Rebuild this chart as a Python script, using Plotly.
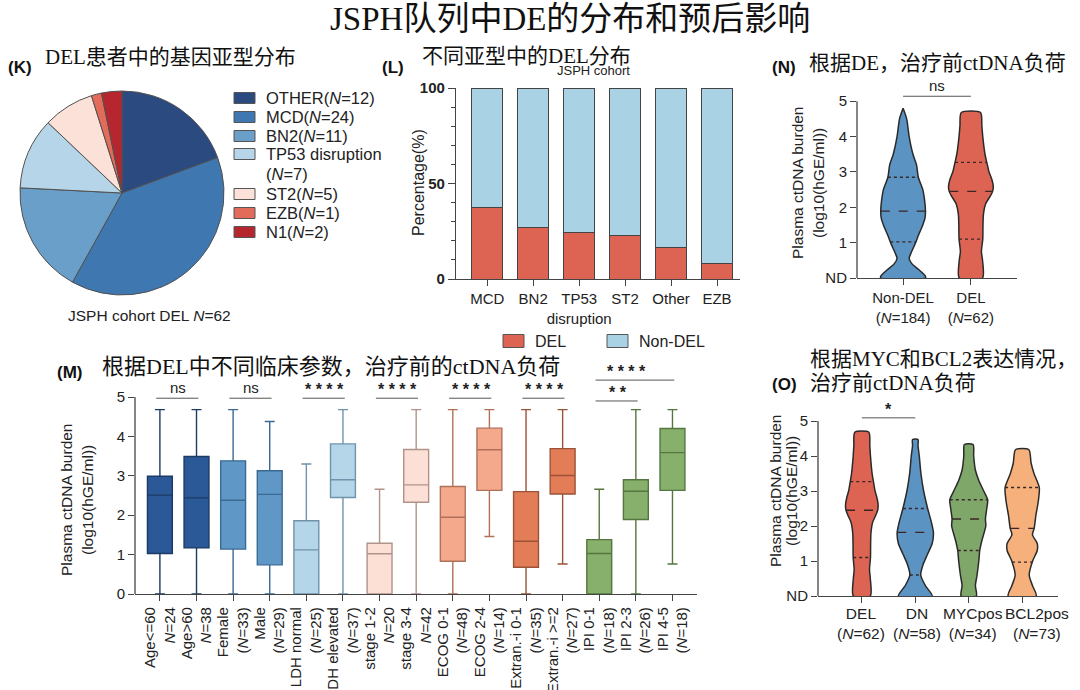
import numpy as np
import plotly.graph_objects as go

W, H = 1080, 690

# ---------------- data ----------------
pie_labels = ["OTHER(<i>N</i>=12)", "MCD(<i>N</i>=24)", "BN2(<i>N</i>=11)",
              "TP53 disruption<br>(<i>N</i>=7)", "ST2(<i>N</i>=5)", "EZB(<i>N</i>=1)", "N1(<i>N</i>=2)"]
pie_values = [12, 24, 11, 7, 5, 1, 2]

bar_categories = ["MCD", "BN2", "TP53<br>disruption", "ST2", "Other", "EZB"]
bar_series = ["DEL", "Non-DEL"]
bar_del = [37.5, 27.0, 24.5, 23.0, 16.5, 8.0]
bar_nondel = [62.5, 73.0, 75.5, 77.0, 83.5, 92.0]

box_labels = ["Age&lt;=60<br><i>N</i>=24", "Age&gt;60<br><i>N</i>=38", "Female<br>(<i>N</i>=33)",
              "Male<br>(<i>N</i>=29)", "LDH normal<br>(<i>N</i>=25)", "LDH elevated<br>(<i>N</i>=37)",
              "stage 1-2<br><i>N</i>=20", "stage 3-4<br><i>N</i>=42", "ECOG 0-1<br>(<i>N</i>=48)",
              "ECOG 2-4<br>(<i>N</i>=14)", "Extran.-i 0-1<br>(<i>N</i>=35)", "Extran.-i &gt;=2<br>(<i>N</i>=27)",
              "IPI 0-1<br>(<i>N</i>=18)", "IPI 2-3<br>(<i>N</i>=26)", "IPI 4-5<br>(<i>N</i>=18)"]
box_low = [0, 0, 0, 0, 0, 0, 0, 0, 0, 1.46, 0, 0.76, 0, 0, 0.76]
box_q1 = [1.03, 1.17, 1.14, 0.74, 0, 2.45, 0, 2.33, 0.83, 2.63, 0.68, 2.54, 0, 1.89, 2.63]
box_median = [2.51, 2.44, 2.38, 2.53, 1.12, 2.90, 1.02, 2.77, 1.95, 3.66, 1.34, 3.01, 1.03, 2.61, 3.59]
box_q3 = [2.99, 3.49, 3.38, 3.13, 1.86, 3.81, 1.29, 3.67, 2.73, 4.21, 2.60, 3.69, 1.38, 2.90, 4.20]
box_high = [4.68, 4.68, 4.68, 4.38, 3.30, 4.68, 2.66, 4.68, 4.68, 4.68, 4.68, 4.68, 2.66, 4.68, 4.68]

# significance brackets for panel M
m_sig_from = [0, 2, 4, 6, 8, 10, 12, 12]
m_sig_to = [1, 3, 5, 7, 9, 11, 13, 14]
m_sig_text = ["ns", "ns", "* * * *", "* * * *", "* * * *", "* * * *", "* *", "* * * *"]
m_sig_level = [4.97, 4.97, 4.97, 4.97, 4.97, 4.97, 4.90, 5.43]

# violin outlines: y level and relative half-width
nondel_y = [0, 0.05, 0.2, 0.4, 0.55, 0.7, 1.0, 1.2, 1.5, 1.7, 1.9, 2.2, 2.5, 2.85, 3.2, 3.5, 4.0, 4.5, 4.8]
nondel_w = [1.0, 1.0, 0.77, 0.4, 0.27, 0.35, 0.56, 0.68, 0.88, 0.98, 1.0, 0.96, 0.88, 0.68, 0.6, 0.44, 0.27, 0.16, 0.0]
nondel_q = [1.02, 1.89, 2.85]

del_y = [0, 0.5, 0.75, 1.1, 1.5, 1.8, 2.1, 2.3, 2.45, 2.6, 2.8, 3.0, 3.27, 3.5, 4.0, 4.3, 4.68]
del_w = [0.52, 0.52, 0.47, 0.53, 0.54, 0.56, 0.66, 0.85, 0.97, 1.0, 0.93, 0.81, 0.71, 0.63, 0.53, 0.49, 0.43]
del_q = [1.1, 2.45, 3.27]

dn_y = [0, 0.3, 0.6, 0.9, 1.2, 1.5, 1.8, 2.1, 2.5, 3.0, 3.5, 4.0, 4.3, 4.47]
dn_w = [0.93, 0.55, 0.3, 0.43, 0.68, 0.93, 1.0, 0.89, 0.68, 0.46, 0.31, 0.22, 0.15, 0.15]
dn_q = [0.6, 1.82, 2.5]

myc_y = [0, 0.3, 0.6, 1.0, 1.3, 1.6, 2.0, 2.2, 2.5, 2.75, 3.0, 3.3, 3.6, 4.0, 4.33]
myc_w = [0.4, 0.35, 0.44, 0.53, 0.58, 0.7, 0.9, 0.88, 0.95, 1.0, 0.79, 0.53, 0.35, 0.26, 0.23]
myc_q = [1.3, 2.2, 2.75]

bcl2_y = [0, 0.3, 0.6, 1.0, 1.3, 1.5, 1.75, 1.93, 2.3, 2.7, 3.1, 3.5, 3.8, 4.18]
bcl2_w = [0.82, 0.6, 0.41, 0.61, 0.88, 0.88, 0.6, 0.7, 0.8, 0.94, 1.0, 0.69, 0.52, 0.39]
bcl2_q = [0.97, 1.93, 3.1]

n_labels = ["Non-DEL<br>(<i>N</i>=184)", "DEL<br>(<i>N</i>=62)"]
o_labels = ["DEL<br>(<i>N</i>=62)", "DN<br>(<i>N</i>=58)", "MYCpos<br>(<i>N</i>=34)", "BCL2pos<br>(<i>N</i>=73)"]
nd_ticks = ["ND", "1", "2", "3", "4", "5"]

# ---------------- style ----------------
SANS = "Liberation Sans, Arial, sans-serif"
SERIF = "Liberation Serif, Noto Sans CJK SC, serif"
TXT = "#222222"
AX = "#444444"

pie_colors = ["#2b4a80", "#3f78b0", "#6a9fca", "#b7d5e8", "#fbe1d8", "#e26b5a", "#b5262e"]
pie_rows = [98, 117, 136, 154, 194, 213, 232]
bar_colors = ["#dd6453", "#a9d3e4"]
box_fill = ["#2b5896"] * 2 + ["#5f98c6"] * 2 + ["#b5d5e8"] * 2 + ["#fce0d6"] * 2 + \
           ["#f5a98c"] * 2 + ["#e27d58"] * 2 + ["#87b06d"] * 3
box_line = ["#1c3a66"] * 2 + ["#3a6a94"] * 2 + ["#6f93aa"] * 2 + ["#b0948a"] * 2 + \
           ["#b0705a"] * 2 + ["#9c5236"] * 2 + ["#56763f"] * 3
o_label_shift = [-1, 2, 4, 15]
RED = "#dd6453"
BLUE = "#5b93c2"
GREEN = "#80a76a"
ORANGE = "#f5b07c"


def xp(p):
    return p / W


def yp(p):
    return 1 - p / H


fig = go.Figure()

# ---- pie (K)
fig.add_trace(go.Pie(labels=pie_labels, values=pie_values, sort=False, direction="clockwise",
                     rotation=0, textinfo="none", hoverinfo="label+value", showlegend=False,
                     marker=dict(colors=pie_colors, line=dict(color="#505050", width=1)),
                     domain=dict(x=[xp(20), xp(224)], y=[yp(298), yp(88)])))

# ---- stacked bars (L)
bx = list(range(len(bar_categories)))
for name, vals, col in zip(bar_series, [bar_del, bar_nondel], bar_colors):
    fig.add_trace(go.Bar(x=bx, y=vals, name=name, marker=dict(color=col, line=dict(color=AX, width=1)),
                         width=0.67, xaxis="x", yaxis="y", showlegend=False))

# ---- box plots (M)
for i in range(len(box_labels)):
    fig.add_trace(go.Box(x=[i], q1=[box_q1[i]], median=[box_median[i]], q3=[box_q3[i]],
                         lowerfence=[box_low[i]], upperfence=[box_high[i]],
                         fillcolor=box_fill[i], line=dict(color=box_line[i], width=1.4),
                         width=0.68, whiskerwidth=0.4, boxpoints=False, showlegend=False,
                         xaxis="x3", yaxis="y3", hoverinfo="y"))


def add_violin(ys, ws, center, scale, color, quart, xa, ya):
    ys = np.asarray(ys, dtype=float)
    ws = np.asarray(ws, dtype=float) * scale
    xs = np.concatenate([center - ws, (center + ws)[::-1], [center - ws[0]]])
    yy = np.concatenate([ys, ys[::-1], [ys[0]]])
    fig.add_trace(go.Scatter(x=xs, y=yy, mode="lines", fill="toself", fillcolor=color,
                             line=dict(color="#2a2a2a", width=1.5, shape="spline", smoothing=0.7),
                             showlegend=False, hoverinfo="skip", xaxis=xa, yaxis=ya))
    for q, dash in zip(quart, ["dot", "dash", "dot"]):
        hw = float(np.interp(q, ys, ws))
        fig.add_trace(go.Scatter(x=[center - hw, center + hw], y=[q, q], mode="lines",
                                 line=dict(color="#3a2626", width=1.3, dash=dash),
                                 showlegend=False, hoverinfo="skip", xaxis=xa, yaxis=ya))


# ---- violins (N)
add_violin(nondel_y, nondel_w, 0, 0.33, BLUE, nondel_q, "x2", "y2")
add_violin(del_y, del_w, 1, 0.33, RED, del_q, "x2", "y2")
# ---- violins (O)
add_violin(del_y, del_w, 0, 0.305, RED, del_q, "x4", "y4")
add_violin(dn_y, dn_w, 1, 0.34, BLUE, dn_q, "x4", "y4")
add_violin(myc_y, myc_w, 2, 0.355, GREEN, myc_q, "x4", "y4")
add_violin(bcl2_y, bcl2_w, 3, 0.32, ORANGE, bcl2_q, "x4", "y4")

tickfont = dict(family=SANS, size=15, color=TXT)
common_x = dict(showline=True, linecolor=AX, linewidth=1.3, ticks="outside", ticklen=6,
                tickcolor=AX, showgrid=False, zeroline=False, tickfont=tickfont, automargin=False)
common_y = dict(showline=False, ticks="outside", ticklen=6, tickcolor=AX, showgrid=False,
                zeroline=False, tickfont=tickfont, automargin=False)

fig.update_layout(
    width=W, height=H, margin=dict(l=0, r=0, t=0, b=0, autoexpand=False),
    paper_bgcolor="white", plot_bgcolor="white",
    barmode="stack", showlegend=False,
    font=dict(family=SANS, color=TXT),
    xaxis=dict(domain=[xp(456), xp(740)], range=[-0.68, 5.5], tickvals=bx, ticktext=bar_categories,
               tickangle=0, anchor="y", **common_x),
    yaxis=dict(domain=[yp(279), yp(88)], range=[0, 100], tickvals=[0, 50, 100], anchor="x",
               showline=True, linecolor=AX, linewidth=1.3, ticks="outside", ticklen=7, tickcolor=AX,
               showgrid=False, zeroline=False, automargin=False,
               tickfont=dict(family=SANS, size=15, color=TXT, weight="bold"),
               minor=dict(dtick=10, ticks="outside", ticklen=4, tickcolor=AX)),
    xaxis2=dict(domain=[xp(857), xp(1017)], range=[-0.68, 1.68], tickvals=[0, 1], ticktext=n_labels,
                tickangle=0, anchor="y2", **common_x),
    yaxis2=dict(domain=[yp(278), yp(80)], range=[0, 5.6], tickvals=[0, 1, 2, 3, 4, 5], ticktext=nd_ticks,
                anchor="x2", **common_y),
    xaxis3=dict(domain=[xp(135), xp(697)], range=[-0.68, 14.67], tickvals=list(range(len(box_labels))),
                ticktext=box_labels, tickangle=-90, anchor="y3", **common_x),
    yaxis3=dict(domain=[yp(594), yp(373.4)], range=[0, 5.6], tickvals=[0, 1, 2, 3, 4, 5],
                anchor="x3", **common_y),
    xaxis4=dict(domain=[xp(818), xp(1058)], range=[-0.82, 3.67], tickvals=[0, 1, 2, 3],
                showticklabels=False, anchor="y4", **common_x),
    yaxis4=dict(domain=[yp(596), yp(400)], range=[0, 5.6], tickvals=[0, 1, 2, 3, 4, 5], ticktext=nd_ticks,
                anchor="x4", **common_y),
)

shapes = []
annotations = []
# y-axis lines limited to 0..5
for xa, ya in [("x2", "y2"), ("x3", "y3"), ("x4", "y4")]:
    shapes.append(dict(type="line", xref=xa + " domain", yref=ya, x0=0, x1=0, y0=0, y1=5,
                       line=dict(color=AX, width=1.3)))

# brackets in M
for a, b, t, lv in zip(m_sig_from, m_sig_to, m_sig_text, m_sig_level):
    shapes.append(dict(type="line", xref="x3", yref="y3", x0=a - 0.1, x1=b + 0.05, y0=lv, y1=lv,
                       line=dict(color="#555555", width=1)))
    annotations.append(dict(xref="x3", yref="y3", x=(a + b) / 2 if b - a == 1 else a + 0.75, y=lv,
                            yanchor="bottom", yshift=-2 if t != "ns" else 0, text=t, showarrow=False,
                            font=dict(family=SANS, size=15 if t == "ns" else 16, color=TXT,
                                      weight="normal" if t == "ns" else "bold")))
# bracket N
shapes.append(dict(type="line", xref="x2", yref="y2", x0=0, x1=1, y0=5.14, y1=5.14,
                   line=dict(color="#555555", width=1)))
annotations.append(dict(xref="x2", yref="y2", x=0.5, y=5.14, yanchor="bottom", text="ns", showarrow=False,
                        font=dict(family=SANS, size=15, color=TXT)))
# bracket O
shapes.append(dict(type="line", xref="x4", yref="y4", x0=0, x1=1, y0=5.09, y1=5.09,
                   line=dict(color="#555555", width=1)))
annotations.append(dict(xref="x4", yref="y4", x=0.5, y=5.09, yanchor="bottom", yshift=-2, text="*",
                        showarrow=False, font=dict(family=SANS, size=16, color=TXT, weight="bold")))

# x labels of panel O (placed under the ticks, slightly spread like the reference)
for i, (lab, sh) in enumerate(zip(o_labels, o_label_shift)):
    annotations.append(dict(xref="x4", yref="y4 domain", x=i, y=0, yanchor="top", yshift=-7, xshift=sh,
                            text=lab, showarrow=False, align="center",
                            font=dict(family=SANS, size=15.5, color=TXT)))


def ann(text, x, y, size, family=SANS, anchor="left", angle=0, bold=False, color="#111111"):
    annotations.append(dict(xref="paper", yref="paper", x=xp(x), y=yp(y), text=text, showarrow=False,
                            xanchor=anchor, yanchor="middle", textangle=angle,
                            font=dict(family=family, size=size, color=color,
                                      weight="bold" if bold else "normal")))


def legend_box(x, y, color, h=11):
    shapes.append(dict(type="rect", xref="paper", yref="paper", x0=xp(x), x1=xp(x + 21),
                       y0=yp(y + h / 2), y1=yp(y - h / 2), fillcolor=color,
                       line=dict(color="#555555", width=1)))


# manual legend for the pie
for lab, col, ry in zip(pie_labels, pie_colors, pie_rows):
    legend_box(234, ry, col)
    parts = lab.split("<br>")
    ann(parts[0], 264, ry, 16.5, color=TXT)
    if len(parts) > 1:
        ann(parts[1], 264, ry + 20, 16.5, color=TXT)

# manual legend for bars
for name, col, lx in zip(bar_series, bar_colors, [503, 607]):
    legend_box(lx, 341, col, h=13)
    ann(name, lx + 30, 341, 16, color=TXT)

ann("JSPH队列中DE的分布和预后影响", 570, 19, 33, family=SERIF, anchor="center")
ann("(K)", 6, 67, 17, bold=True)
ann("DEL患者中的基因亚型分布", 43, 57, 21, family=SERIF)
ann("(L)", 380, 67, 17, bold=True)
ann("不同亚型中的DEL分布", 420, 56, 21, family=SERIF)
ann("JSPH cohort", 593, 70, 13, anchor="center", color=TXT)
ann("(N)", 770, 67, 17, bold=True)
ann("根据DE，治疗前ctDNA负荷", 807, 63, 21, family=SERIF)
ann("(M)", 55, 372, 17, bold=True)
ann("根据DEL中不同临床参数，治疗前的ctDNA负荷", 100, 366, 22, family=SERIF)
ann("根据MYC和BCL2表达情况，", 808, 359, 21, family=SERIF)
ann("(O)", 770, 384, 17, bold=True)
ann("治疗前ctDNA负荷", 808, 383, 21, family=SERIF)
ann("JSPH cohort DEL <i>N</i>=62", 149, 315, 15.5, anchor="center", color=TXT)

# y-axis titles
ann("Percentage(%)", 418, 183, 16, anchor="center", angle=-90, color=TXT)
ann("Plasma ctDNA burden", 797, 183, 15.5, anchor="center", angle=-90, color=TXT)
ann("(log10(hGE/ml))", 818, 183, 15.5, anchor="center", angle=-90, color=TXT)
ann("Plasma ctDNA burden", 66, 500, 15.5, anchor="center", angle=-90, color=TXT)
ann("(log10(hGE/ml))", 87, 500, 15.5, anchor="center", angle=-90, color=TXT)
ann("Plasma ctDNA burden", 775, 491, 15.5, anchor="center", angle=-90, color=TXT)
ann("(log10(hGE/ml))", 791, 491, 15.5, anchor="center", angle=-90, color=TXT)

fig.update_layout(shapes=shapes, annotations=annotations)
fig.write_html("out.html", config={"displayModeBar": False},
               post_script="document.body.style.margin='0px';")
